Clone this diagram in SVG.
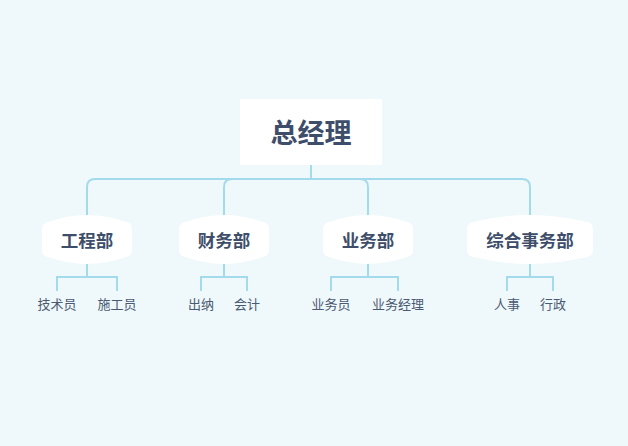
<svg xmlns="http://www.w3.org/2000/svg" width="628" height="446" viewBox="0 0 628 446">
<style>
.bg{fill:#EFF8FB}
.box{fill:#FFFFFF}
.ln{fill:none;stroke:#A3DBEC;stroke-width:2}
.t0{font-family:"Noto Sans CJK SC","Noto Sans",sans-serif;font-size:27px;font-weight:bold;fill:#3E4E6A;text-anchor:middle}
.t1{font-family:"Noto Sans CJK SC","Noto Sans",sans-serif;font-size:17.5px;font-weight:bold;fill:#3E4E6A;text-anchor:middle}
.t2{font-family:"Noto Sans CJK SC","Noto Sans",sans-serif;font-size:13px;fill:#4A5A72;text-anchor:middle}
</style>
<rect class="bg" x="0" y="0" width="628" height="446"/>
<g id="connectors">
<path class="ln" d="M311,165 V179"/>
<path class="ln" d="M311,179 H95 Q87,179 87,187 V215"/>
<path class="ln" d="M311,179 H232 Q224,179 224,187 V217"/>
<path class="ln" d="M311,179 H360 Q368,179 368,187 V217"/>
<path class="ln" d="M311,179 H522 Q530,179 530,187 V215"/>
<path class="ln" d="M87,264 V277 M57,291 V277 H117 V291"/>
<path class="ln" d="M224,264 V277 M201,291 V277 H247 V291"/>
<path class="ln" d="M368,264 V277 M331,291 V277 H398 V291"/>
<path class="ln" d="M530,264 V277 M507,291 V277 H553 V291"/>
</g>
<g id="root">
<rect class="box" x="240" y="99" width="142" height="66"/>
<text class="t0" x="311" y="143">总经理</text>
</g>
<g id="n1">
<path class="box" d="M42,229 Q42,223 48,222 Q87,208 126,222 Q132,223 132,229 L132,250 Q132,256 126,257 Q87,271 48,257 Q42,256 42,250 Z"/>
<text class="t1" x="87" y="247">工程部</text>
</g>
<g id="n2">
<path class="box" d="M179,229 Q179,223 185,222 Q224,208 263,222 Q269,223 269,229 L269,250 Q269,256 263,257 Q224,271 185,257 Q179,256 179,250 Z"/>
<text class="t1" x="224" y="247">财务部</text>
</g>
<g id="n3">
<path class="box" d="M323,229 Q323,223 329,222 Q368,208 407,222 Q413,223 413,229 L413,250 Q413,256 407,257 Q368,271 329,257 Q323,256 323,250 Z"/>
<text class="t1" x="368" y="247">业务部</text>
</g>
<g id="n4">
<path class="box" d="M467,229 Q467,223 473,222 Q530,208 587,222 Q593,223 593,229 L593,250 Q593,256 587,257 Q530,271 473,257 Q467,256 467,250 Z"/>
<text class="t1" x="530" y="247">综合事务部</text>
</g>
<g id="leaf1"><text class="t2" x="57" y="309">技术员</text></g>
<g id="leaf2"><text class="t2" x="117" y="309">施工员</text></g>
<g id="leaf3"><text class="t2" x="201" y="309">出纳</text></g>
<g id="leaf4"><text class="t2" x="247" y="309">会计</text></g>
<g id="leaf5"><text class="t2" x="331" y="309">业务员</text></g>
<g id="leaf6"><text class="t2" x="398" y="309">业务经理</text></g>
<g id="leaf7"><text class="t2" x="507" y="309">人事</text></g>
<g id="leaf8"><text class="t2" x="553" y="309">行政</text></g>
</svg>
